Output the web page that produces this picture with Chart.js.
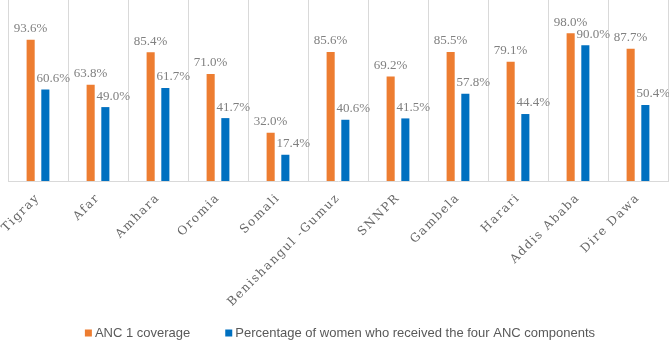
<!DOCTYPE html>
<html>
<head>
<title>ANC coverage by region</title>
<script src="https://cdn.jsdelivr.net/npm/chart.js@4.4.1/dist/chart.umd.min.js"></script>
<style>
  html, body { margin: 0; padding: 0; background: #fff; }
  #wrap { width: 669px; height: 343px; }
</style>
</head>
<body>
<div id="wrap"><canvas id="chart" width="669" height="343"></canvas></div>
<script>
const regions = ['Tigray', 'Afar', 'Amhara', 'Oromia', 'Somali', 'Benishangul -Gumuz',
  'SNNPR', 'Gambela', 'Harari', 'Addis Ababa', 'Dire Dawa'];
const anc1 = [93.6, 63.8, 85.4, 71.0, 32.0, 85.6, 69.2, 85.5, 79.1, 98.0, 87.7];
const fourComponents = [60.6, 49.0, 61.7, 41.7, 17.4, 40.6, 41.5, 57.8, 44.4, 90.0, 50.4];
const seriesNames = ['ANC 1 coverage', 'Percentage of women who received the four ANC components'];
const seriesColors = ['#ED7D31', '#0070C0'];

// value labels above bars, the blue ones sit a bit to the right like in the original
const valueLabels = {
  id: 'valueLabels',
  afterDatasetsDraw(chart) {
    const ctx = chart.ctx;
    ctx.save();
    ctx.font = '13px "Liberation Serif", serif';
    ctx.fillStyle = '#808080';
    ctx.textAlign = 'center';
    ctx.textBaseline = 'middle';
    chart.data.datasets.forEach((ds, i) => {
      const shift = i === 1 ? 8 : 0;
      chart.getDatasetMeta(i).data.forEach((bar, j) => {
        ctx.fillText(ds.data[j].toFixed(1) + '%', bar.x + shift, bar.y - 11);
      });
    });
    ctx.restore();
  }
};

// rotated category names under the axis
const slantLabels = {
  id: 'slantLabels',
  afterDraw(chart) {
    const ctx = chart.ctx;
    const xs = chart.scales.x;
    ctx.save();
    ctx.font = '12px "DejaVu Serif", serif';
    ctx.fillStyle = '#666666';
    ctx.letterSpacing = '1.5px';
    ctx.textAlign = 'right';
    ctx.textBaseline = 'middle';
    chart.data.labels.forEach((lab, i) => {
      const x = xs.getPixelForValue(i);
      ctx.save();
      ctx.translate(x, chart.chartArea.bottom + 15);
      ctx.rotate(-Math.PI / 4);
      ctx.fillText(lab, 0, 0);
      ctx.restore();
    });
    ctx.restore();
  }
};

const bottomLegend = {
  id: 'bottomLegend',
  afterDraw(chart) {
    const ctx = chart.ctx;
    ctx.save();
    ctx.font = '13px "Liberation Sans", Arial, sans-serif';
    ctx.textBaseline = 'middle';
    const box = 7, gapBox = 3, gapItem = 35;
    const widths = chart.data.datasets.map(ds => box + gapBox + ctx.measureText(ds.label).width);
    const total = widths.reduce((a, b) => a + b, 0) + gapItem * (widths.length - 1);
    let x = 340 - total / 2;
    const y = 333;
    chart.data.datasets.forEach((ds, i) => {
      ctx.fillStyle = ds.backgroundColor;
      ctx.fillRect(x, y - box / 2, box, box);
      ctx.fillStyle = '#595959';
      ctx.fillText(ds.label, x + box + gapBox, y);
      x += widths[i] + gapItem;
    });
    ctx.restore();
  }
};

new Chart(document.getElementById('chart').getContext('2d'), {
  type: 'bar',
  data: {
    labels: regions,
    datasets: [
      { label: seriesNames[0], data: anc1, backgroundColor: seriesColors[0] },
      { label: seriesNames[1], data: fourComponents, backgroundColor: seriesColors[1] }
    ]
  },
  options: {
    responsive: false,
    maintainAspectRatio: false,
    animation: false,
    layout: { padding: { left: 8, right: 1, top: 0, bottom: 162 } },
    datasets: { bar: { categoryPercentage: 0.49, barPercentage: 0.55 } },
    plugins: { legend: { display: false }, tooltip: { enabled: false } },
    scales: {
      x: {
        offset: true,
        grid: { display: true, offset: true, color: '#d9d9d9', drawTicks: false },
        border: { display: true, color: '#d9d9d9' },
        ticks: { display: false }
      },
      y: { display: false, min: 0, max: 120 }
    }
  },
  plugins: [valueLabels, slantLabels, bottomLegend]
});
</script>
</body>
</html>
